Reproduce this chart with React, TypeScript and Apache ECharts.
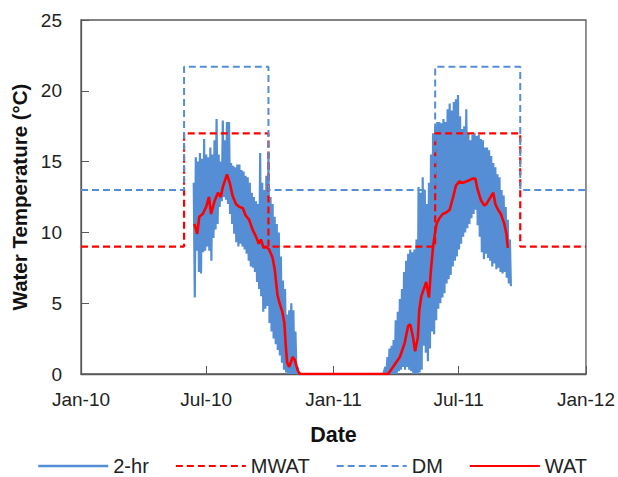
import { useEffect, useRef } from "react";
import * as echarts from "echarts";

// ---- axis ----
const xStartDate = "2010-01-01";
const xEndDate = "2012-01-01";
const xTickDates = ["2010-01-01", "2010-07-01", "2011-01-01", "2011-07-01", "2012-01-01"];
const xTickLabels = ["Jan-10", "Jul-10", "Jan-11", "Jul-11", "Jan-12"];
const yMin = 0;
const yMax = 25;
const yStep = 5;

// ---- 2-hr readings: daily high / low envelope sampled every 3 days ----
const twoHrStepDays = 3;
const twoHr2010Start = "2010-06-13";
const twoHr2010High = [13.5, 15.3, 15.0, 15.6, 15.2, 16.6, 15.5, 15.3, 16.0, 15.5, 16.5, 18.0, 15.5, 15.0, 17.9, 16.5, 17.8, 17.8, 14.9, 14.7, 14.6, 14.8, 14.8, 14.4, 14.3, 14.0, 13.9, 13.5, 12.8, 12.5, 12.2, 12.0, 15.6, 13.5, 13.0, 14.0, 15.6, 12.5, 12.0, 11.1, 10.6, 10.0, 8.3, 6.6, 6.0, 4.2, 4.5, 5.0, 4.5, 3.0, 0.5, 0.1];
const twoHr2010Low = [5.4, 8.7, 7.2, 7.1, 8.6, 8.7, 9.0, 8.7, 8.0, 9.6, 10.2, 10.6, 11.8, 12.2, 12.5, 12.3, 12.0, 11.3, 10.6, 9.9, 9.3, 9.0, 9.2, 9.0, 8.8, 8.5, 8.0, 7.6, 7.5, 7.2, 6.5, 6.0, 5.5, 4.4, 4.6, 4.8, 3.6, 3.0, 2.5, 2.1, 1.7, 1.3, 0.8, 0.3, 0.1, 0, 0, 0, 0, 0, 0, 0];
const twoHrWinterDates = ["2010-12-01", "2011-01-01", "2011-02-01", "2011-03-14"];
const twoHrWinterValues = [0, 0, 0, 0];
const twoHr2011Start = "2011-03-17";
const twoHr2011High = [0.5, 1.2, 1.8, 2.0, 2.4, 3.8, 4.4, 5.3, 6.0, 7.2, 8.0, 8.5, 8.8, 8.6, 8.8, 9.5, 13.2, 12.8, 13.9, 13.0, 12.0, 13.5, 15.5, 17.0, 17.5, 17.8, 17.8, 17.7, 18.0, 17.8, 18.7, 19.1, 18.6, 19.2, 19.4, 19.7, 18.2, 17.3, 17.5, 18.7, 17.0, 16.5, 16.9, 17.0, 16.8, 16.9, 16.6, 16.5, 16.0, 16.0, 15.8, 15.4, 14.9, 14.6, 14.1, 13.9, 13.0, 12.6, 11.8, 10.9, 9.5];
const twoHr2011Low = [0, 0, 0, 0, 0, 0, 0.2, 0.3, 0.5, 0.3, 0.5, 0.3, 0.2, 0, 0, 0, 0.1, 0.3, 2.0, 1.5, 0.9, 1.8, 3.0, 2.8, 3.8, 4.6, 5.0, 5.4, 5.7, 6.4, 6.7, 7.0, 7.6, 8.0, 8.3, 8.8, 9.2, 9.7, 10.0, 10.3, 10.6, 11.0, 11.3, 11.6, 10.5, 9.7, 8.6, 8.1, 8.5, 8.2, 8.0, 7.6, 7.8, 7.4, 7.5, 7.2, 7.1, 7.2, 6.8, 6.4, 6.2];

// ---- MWAT and DM criteria (step changes) ----
const criteriaDates = ["2010-01-01", "2010-05-30", "2010-09-29", "2011-05-28", "2011-09-28", "2012-01-01"];
const mwatValues = [9, 17, 9, 17, 9, 9];
const dmValues = [13, 21.7, 13, 21.7, 13, 13];

// ---- WAT ----
const wat2010Dates = ["2010-06-14", "2010-06-18", "2010-06-21", "2010-06-26", "2010-07-01", "2010-07-05", "2010-07-08", "2010-07-13", "2010-07-18", "2010-07-22", "2010-07-25", "2010-07-27", "2010-07-31", "2010-08-04", "2010-08-08", "2010-08-13", "2010-08-18", "2010-08-23", "2010-08-27", "2010-09-01", "2010-09-06", "2010-09-11", "2010-09-15", "2010-09-18", "2010-09-22", "2010-09-25", "2010-09-30", "2010-10-05", "2010-10-08", "2010-10-12", "2010-10-15", "2010-10-19", "2010-10-22", "2010-10-24", "2010-10-26", "2010-10-29", "2010-11-03", "2010-11-06", "2010-11-10", "2010-11-13"];
const wat2010Values = [10.6, 9.9, 11.1, 11.3, 11.8, 12.5, 11.3, 12.2, 12.8, 12.5, 13.2, 13.5, 14.1, 13.5, 12.6, 12.0, 11.8, 11.7, 11.2, 10.9, 10.2, 9.7, 9.2, 9.5, 8.9, 9.0, 8.8, 8.2, 7.4, 5.6, 5.0, 4.4, 3.6, 2.0, 0.8, 0.5, 1.2, 1.0, 0.3, 0];
const wat2011Dates = ["2011-03-21", "2011-03-28", "2011-04-07", "2011-04-14", "2011-04-19", "2011-04-22", "2011-04-26", "2011-04-29", "2011-05-03", "2011-05-05", "2011-05-08", "2011-05-13", "2011-05-15", "2011-05-19", "2011-05-22", "2011-05-25", "2011-05-27", "2011-05-30", "2011-06-03", "2011-06-08", "2011-06-13", "2011-06-18", "2011-06-23", "2011-06-27", "2011-07-02", "2011-07-07", "2011-07-12", "2011-07-17", "2011-07-21", "2011-07-25", "2011-07-28", "2011-08-02", "2011-08-07", "2011-08-10", "2011-08-15", "2011-08-20", "2011-08-23", "2011-08-27", "2011-08-31", "2011-09-05", "2011-09-08", "2011-09-10"];
const wat2011Values = [0, 0.5, 1.2, 2.2, 3.4, 3.5, 2.6, 1.6, 2.6, 4.5, 5.5, 6.2, 6.5, 5.4, 7.4, 9.0, 9.7, 10.6, 11.0, 11.3, 11.4, 11.6, 12.5, 13.3, 13.6, 13.5, 13.6, 13.7, 13.8, 13.8, 13.1, 12.3, 11.9, 12.0, 12.4, 12.8, 12.0, 11.6, 11.3, 10.6, 9.9, 8.9];

const BLUE = "#558ED5";
const RED = "#FF0000";
const AXIS = "#595959";
const FONT = "'Liberation Sans', Arial, sans-serif";

const DAY_MS = 86400000;
const dayOf = (d: string) => (Date.parse(d) - Date.parse(xStartDate)) / DAY_MS;
const pairs = (dates: string[], vals: number[]) => dates.map((d, i) => [dayOf(d), vals[i]]);

// 2-hr readings swing between the daily high and low
const swing = (start: string, hi: number[], lo: number[]) => {
  const t0 = dayOf(start);
  const out: number[][] = [];
  hi.forEach((h, i) => {
    const t = t0 + i * twoHrStepDays;
    out.push([t, h]);
    out.push([t + twoHrStepDays / 2, lo[i]]);
  });
  return out;
};

export default function App() {
  const ref = useRef<HTMLDivElement>(null);
  useEffect(() => {
    if (!ref.current) return;
    const chart = echarts.init(ref.current, undefined, { renderer: "svg" });
    const tickDays = xTickDates.map(dayOf);
    const twoHrData = [
      ...swing(twoHr2010Start, twoHr2010High, twoHr2010Low),
      ...pairs(twoHrWinterDates, twoHrWinterValues),
      ...swing(twoHr2011Start, twoHr2011High, twoHr2011Low),
    ];
    const watData = [...pairs(wat2010Dates, wat2010Values), ...pairs(wat2011Dates, wat2011Values)];
    chart.setOption({
      animation: false,
      textStyle: { fontFamily: FONT },
      grid: {
        left: 81,
        top: 20,
        right: 30,
        bottom: 103,
        show: true,
        borderColor: AXIS,
        borderWidth: 1.3,
        backgroundColor: "transparent",
      },
      xAxis: {
        type: "value",
        min: dayOf(xStartDate),
        max: dayOf(xEndDate),
        name: "Date",
        nameLocation: "middle",
        nameGap: 50,
        nameTextStyle: { fontSize: 21.5, fontWeight: "bold", color: "#111", fontFamily: FONT },
        axisLine: { show: true, lineStyle: { color: AXIS, width: 1.3 } },
        axisTick: { show: true, inside: true, length: 8, customValues: tickDays, lineStyle: { color: AXIS } },
        axisLabel: {
          customValues: tickDays,
          margin: 16,
          fontSize: 19,
          color: "#222",
          fontFamily: FONT,
          formatter: (v: number) => {
            const i = tickDays.findIndex((d) => Math.abs(d - v) < 0.5);
            return i >= 0 ? xTickLabels[i] : "";
          },
        },
        splitLine: { show: false },
      },
      yAxis: {
        type: "value",
        min: yMin,
        max: yMax,
        interval: yStep,
        name: "Water Temperature (°C)",
        nameLocation: "middle",
        nameGap: 48,
        nameTextStyle: { fontSize: 20.5, fontWeight: "bold", color: "#111", fontFamily: FONT },
        axisLine: { show: true, lineStyle: { color: AXIS, width: 1.3 } },
        axisTick: { show: true, inside: true, length: 8, lineStyle: { color: AXIS } },
        axisLabel: { margin: 19, fontSize: 19, color: "#222", fontFamily: FONT },
        splitLine: { show: false },
      },
      legend: {
        left: 37,
        top: 456,
        padding: 0,
        itemWidth: 70,
        itemHeight: 14,
        itemGap: 26,
        itemStyle: { opacity: 0 },
        textStyle: { fontSize: 20, color: "#222", fontFamily: FONT },
        data: [
          { name: "2-hr", lineStyle: { width: 2.5 } },
          { name: "MWAT" },
          { name: "DM" },
          { name: "WAT" },
        ],
      },
      series: [
        {
          name: "2-hr",
          type: "line",
          data: twoHrData,
          symbol: "none",
          color: BLUE,
          lineStyle: { color: BLUE, width: 2.2 },
        },
        {
          name: "MWAT",
          type: "line",
          data: pairs(criteriaDates, mwatValues),
          step: "end",
          symbol: "none",
          color: RED,
          lineStyle: { color: RED, width: 2.2, type: [7, 4] },
        },
        {
          name: "DM",
          type: "line",
          data: pairs(criteriaDates, dmValues),
          step: "end",
          symbol: "none",
          color: BLUE,
          lineStyle: { color: BLUE, width: 2, type: [7, 4] },
        },
        {
          name: "WAT",
          type: "line",
          data: watData,
          symbol: "none",
          color: RED,
          lineStyle: { color: RED, width: 2.6 },
        },
      ],
    });
    return () => chart.dispose();
  }, []);
  return <div ref={ref} style={{ position: "absolute", left: 0, top: 0, width: 618, height: 477 }} />;
}
